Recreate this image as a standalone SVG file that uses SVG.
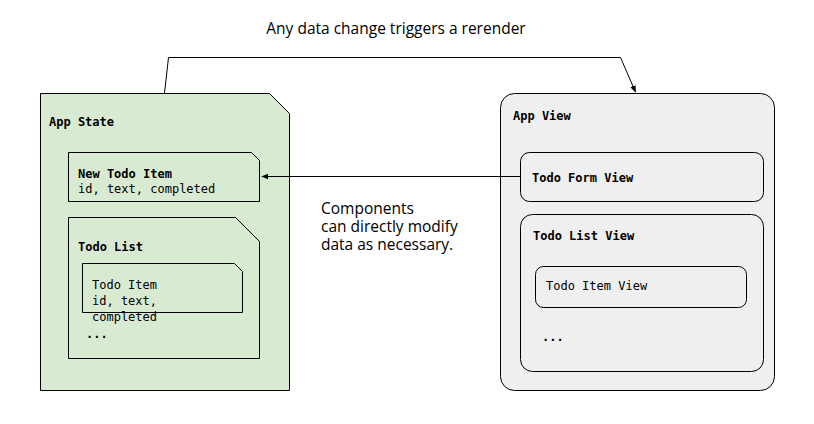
<svg xmlns="http://www.w3.org/2000/svg" width="814" height="424" viewBox="0 0 814 424">
<defs>
<style>
.st{stroke:#000;stroke-width:1;}
.g{fill:#d9ead3;}
.v{fill:#efefef;}
.m{font-family:"DejaVu Sans Mono","Liberation Mono",monospace;font-size:12px;fill:#000;}
.b{font-weight:bold;}
.s{font-family:"Open Sans","Noto Sans",sans-serif;font-size:15.5px;fill:#000;}
.c{fill:none;stroke:#000;stroke-width:1;}
</style>
<marker id="ah" viewBox="0 0 10 10" refX="9" refY="5" markerWidth="7" markerHeight="7" orient="auto" markerUnits="userSpaceOnUse">
<path d="M0,1 L10,5 L0,9 z" fill="#000"/>
</marker>
</defs>
<rect width="814" height="424" fill="#fff"/>
<text class="s" x="396" y="34" text-anchor="middle">Any data change triggers a rerender</text>
<g id="app-state">
<path class="st g" d="M40.5,93.5 H269.5 L289.5,113.5 V390.5 H40.5 Z"/>
<text class="m b" x="49" y="126">App State</text>
</g>
<g id="new-todo-item">
<path class="st g" d="M68.5,152.5 H251.5 L259.5,160.5 V201.5 H68.5 Z"/>
<text class="m b" x="78" y="178">New Todo Item</text>
<text class="m" x="78" y="193">id, text, completed</text>
</g>
<g id="todo-list">
<path class="st g" d="M68.5,217.5 H235.5 L259.5,241.5 V358.5 H68.5 Z"/>
<text class="m b" x="78" y="251">Todo List</text>
</g>
<g id="todo-item">
<path class="st g" d="M82.5,263.5 H234.5 L242.5,271.5 V312.5 H82.5 Z"/>
<text class="m" x="92" y="289">Todo Item</text>
<text class="m" x="92" y="305">id, text,</text>
<text class="m" x="92" y="321">completed</text>
<text class="m b" x="86" y="338">...</text>
</g>
<g id="app-view">
<rect class="st v" x="500.5" y="93.5" width="274" height="297" rx="14"/>
<text class="m b" x="513" y="120">App View</text>
</g>
<g id="todo-form-view">
<rect class="st v" x="520.5" y="152.5" width="243" height="49" rx="9"/>
<text class="m b" x="532" y="182">Todo Form View</text>
</g>
<g id="todo-list-view">
<rect class="st v" x="520.5" y="214.5" width="243" height="157" rx="12"/>
<text class="m b" x="533" y="240">Todo List View</text>
</g>
<g id="todo-item-view">
<rect class="st v" x="535.5" y="266.5" width="211" height="41" rx="8"/>
<text class="m" x="546" y="290">Todo Item View</text>
<text class="m b" x="542" y="341">...</text>
</g>
<g id="connectors">
<path class="c" d="M164.5,93 L168.5,57.5 H620.5 L635.5,92" marker-end="url(#ah)"/>
<path class="c" d="M520,176.5 H262" marker-end="url(#ah)"/>
</g>
<text class="s"><tspan x="321" y="214">Components</tspan><tspan x="321" y="232">can directly modify</tspan><tspan x="321" y="250">data as necessary.</tspan></text>
</svg>
